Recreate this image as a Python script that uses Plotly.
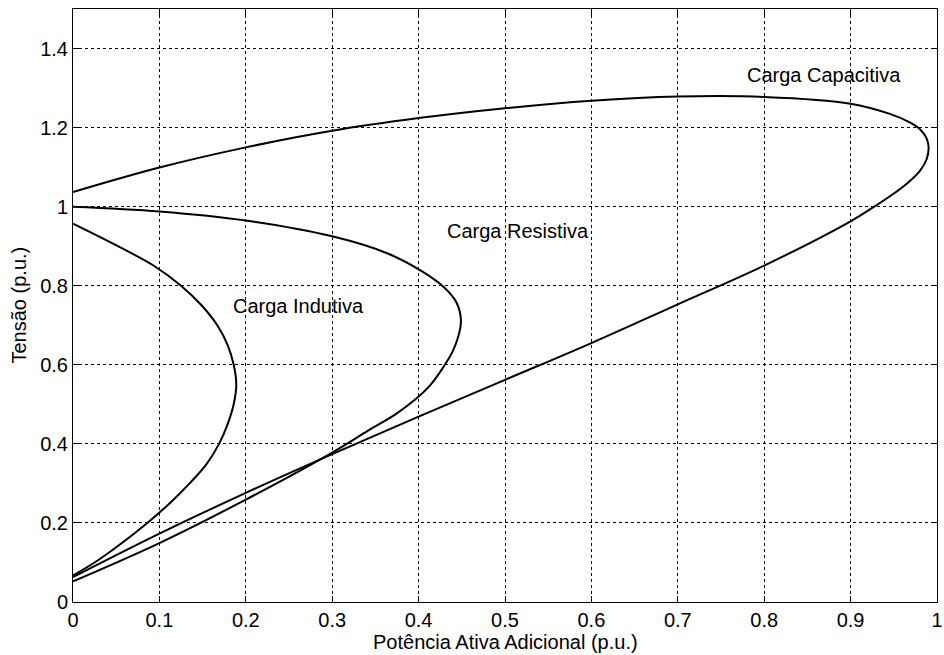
import plotly.graph_objects as go

# P-V curves (voltage vs. additional active power) for three load types
cap_x = [0.0, 0.1, 0.2, 0.3, 0.4, 0.5, 0.6, 0.7, 0.8, 0.9, 0.9454,
         0.9684, 0.980, 0.9877, 0.9903, 0.988, 0.980, 0.966, 0.948, 0.926, 0.9,
         0.8, 0.7, 0.6, 0.5, 0.4, 0.3, 0.2, 0.1, 0.0]
cap_y = [1.037, 1.099, 1.150, 1.192, 1.224, 1.249, 1.268, 1.2785, 1.2775,
         1.2605, 1.2346, 1.2134, 1.1966, 1.174, 1.150, 1.120, 1.090, 1.060,
         1.030, 0.998, 0.963, 0.851, 0.753, 0.655, 0.562, 0.469, 0.374,
         0.276, 0.173, 0.063]

res_x = [0.0, 0.1, 0.2, 0.3, 0.365, 0.405, 0.43, 0.444, 0.449,
         0.446, 0.439, 0.428, 0.414, 0.396, 0.374, 0.342, 0.3, 0.2, 0.1, 0.0]
res_y = [1.0, 0.988, 0.965, 0.925, 0.881, 0.835, 0.795, 0.757, 0.712,
         0.672, 0.632, 0.592, 0.550, 0.512, 0.476, 0.434, 0.378, 0.259, 0.149, 0.052]

ind_x = [0.0, 0.052, 0.094, 0.125, 0.149, 0.167, 0.179, 0.186, 0.189,
         0.186, 0.179, 0.169, 0.155, 0.135, 0.112, 0.086, 0.057, 0.025, 0.0]
ind_y = [0.957, 0.90, 0.85, 0.80, 0.75, 0.70, 0.65, 0.60, 0.55,
         0.50, 0.45, 0.40, 0.35, 0.30, 0.25, 0.20, 0.15, 0.10, 0.0675]

x_ticks = [0.0, 0.1, 0.2, 0.3, 0.4, 0.5, 0.6, 0.7, 0.8, 0.9, 1.0]
x_tick_text = ["0", "0.1", "0.2", "0.3", "0.4", "0.5", "0.6", "0.7", "0.8", "0.9", "1"]
y_ticks = [0.0, 0.2, 0.4, 0.6, 0.8, 1.0, 1.2, 1.4]
y_tick_text = ["0", "0.2", "0.4", "0.6", "0.8", "1", "1.2", "1.4"]

curve_labels = ["Carga Capacitiva", "Carga Resistiva", "Carga Indutiva"]
label_x = [0.869, 0.515, 0.1826]
label_y = [1.334, 0.938, 0.750]
label_anchor = ["center", "center", "left"]

FONT = "Liberation Sans, Arial, Helvetica, sans-serif"

fig = go.Figure()
for xs, ys in [(cap_x, cap_y), (res_x, res_y), (ind_x, ind_y)]:
    fig.add_trace(go.Scatter(
        x=xs, y=ys, mode="lines",
        line=dict(color="black", width=2, shape="spline", smoothing=1.0),
        showlegend=False, hoverinfo="skip",
    ))

for txt, lx, ly, anc in zip(curve_labels, label_x, label_y, label_anchor):
    fig.add_annotation(x=lx, y=ly, xref="x", yref="y", text=txt, showarrow=False,
                       xanchor=anc, yanchor="middle",
                       font=dict(family=FONT, size=20, color="black"))

axis_common = dict(
    showline=True, linecolor="black", linewidth=1, mirror="ticks",
    ticks="inside", ticklen=6, tickcolor="black", tickwidth=1,
    showgrid=True, gridcolor="black", gridwidth=1, griddash="3px,3px",
    zeroline=False, ticklabeloverflow="allow", automargin=False,
    tickfont=dict(family=FONT, size=20, color="black"),
)

fig.update_xaxes(range=[0, 1], tickvals=x_ticks, ticktext=x_tick_text, **axis_common)
fig.update_yaxes(range=[0, 1.5], tickvals=y_ticks, ticktext=y_tick_text, **axis_common)

# Axis titles
fig.add_annotation(x=0.5, y=0, xref="paper", yref="paper", yshift=-40,
                   text="Potência Ativa Adicional (p.u.)", showarrow=False,
                   xanchor="center", yanchor="middle",
                   font=dict(family=FONT, size=20, color="black"))
fig.add_annotation(x=0, y=0.5, xref="paper", yref="paper", xshift=-55,
                   text="Tensão (p.u.)", showarrow=False, textangle=-90,
                   xanchor="center", yanchor="middle",
                   font=dict(family=FONT, size=20, color="black"))

fig.update_layout(
    width=944, height=655,
    margin=dict(l=73, r=7, t=9, b=53),
    paper_bgcolor="white", plot_bgcolor="white",
)

fig.write_html("out.html")
